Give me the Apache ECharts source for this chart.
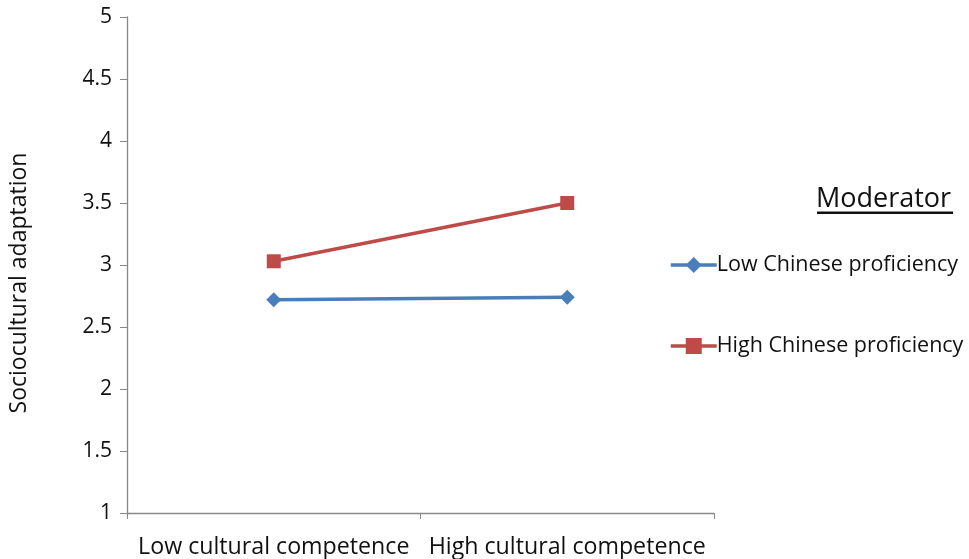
<!DOCTYPE html>
<html><head><meta charset="utf-8">
<script src="https://cdn.jsdelivr.net/npm/echarts@6/dist/echarts.min.js"></script>
<style>html,body{margin:0;padding:0;background:#fff}#c{width:969px;height:559px}</style>
</head><body><div id="c"></div>
<script>
const categories = ['Low cultural competence', 'High cultural competence'];
const lowChinese = [2.72, 2.74];
const highChinese = [3.03, 3.50];
const seriesNames = ['Low Chinese proficiency', 'High Chinese proficiency'];
const yTicks = [1, 1.5, 2, 2.5, 3, 3.5, 4, 4.5, 5];

const FONT = '"Open Sans", "Noto Sans", sans-serif';
const chart = echarts.init(document.getElementById('c'));
chart.setOption({
  animation: false,
  backgroundColor: '#fff',
  grid: { left: 127, right: 255, top: 17, bottom: 46, containLabel: false },
  legend: {
    orient: 'vertical', left: 669, top: 254, itemGap: 59, padding: 0,
    itemWidth: 46, itemHeight: 20,
    data: seriesNames,
    lineStyle: { width: 3.5 },
    textStyle: { fontFamily: FONT, fontSize: 21.5, color: '#111', padding: [0,0,0,-5] }
  },
  xAxis: {
    type: 'category', data: categories, boundaryGap: true,
    axisLine: { lineStyle: { color: '#888', width: 1.3 } },
    axisTick: { show: true, length: 6, lineStyle: { color: '#888' } },
    axisLabel: { fontFamily: FONT, fontSize: 23.2, color: '#111', margin: 23,
      interval: 0, hideOverlap: false }
  },
  yAxis: {
    type: 'value', min: 1, max: 5, interval: 0.5,
    name: 'Sociocultural adaptation', nameLocation: 'middle', nameGap: 96,
    nameTextStyle: { fontFamily: FONT, fontSize: 23, color: '#111', padding: [0, 36, 0, 0] },
    splitLine: { show: false },
    axisLine: { show: true, lineStyle: { color: '#888', width: 1.3 } },
    axisTick: { show: true, length: 7, lineStyle: { color: '#888' } },
    axisLabel: { fontFamily: FONT, fontSize: 21, color: '#111', margin: 15,
      formatter: v => yTicks.includes(v) ? String(v) : '' }
  },
  series: [
    { name: seriesNames[0], type: 'line', data: lowChinese,
      symbol: 'diamond', symbolSize: 15, color: '#4A7EBB',
      lineStyle: { width: 3.5, color: '#4A7EBB' }, itemStyle: { color: '#4A7EBB' } },
    { name: seriesNames[1], type: 'line', data: highChinese,
      symbol: 'rect', symbolSize: 14, color: '#BE4B48',
      lineStyle: { width: 3.5, color: '#BE4B48' }, itemStyle: { color: '#BE4B48' } }
  ],
  graphic: [
    { type: 'text', left: 816, top: 186,
      style: { text: 'Moderator', fontFamily: FONT, fontSize: 27, fill: '#111' } },
    { type: 'rect', left: 817, top: 211.5, shape: { width: 136, height: 2.5 }, style: { fill: '#111' } }
  ]
});
</script></body></html>
